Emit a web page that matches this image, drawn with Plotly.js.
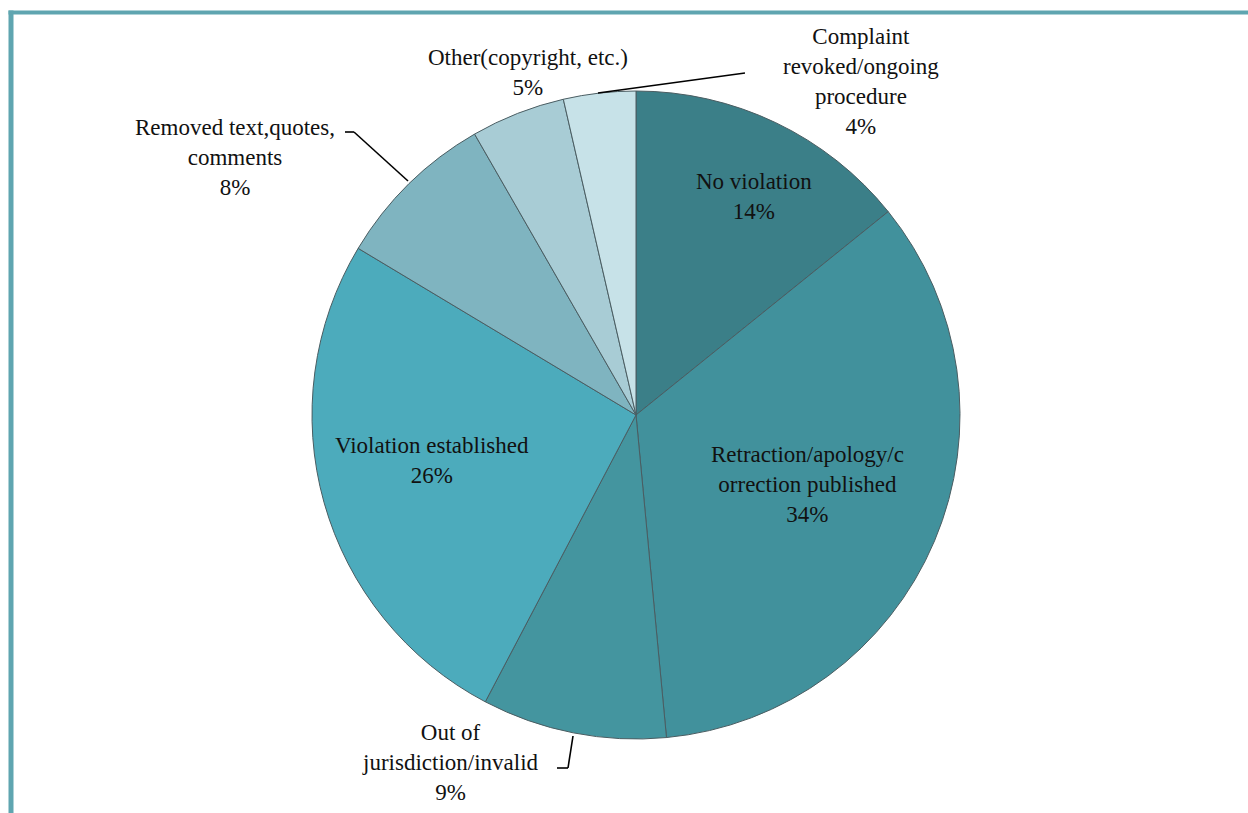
<!DOCTYPE html>
<html>
<head>
<meta charset="utf-8">
<script src="https://cdn.plot.ly/plotly-3.0.1.min.js"></script>
<style>
html,body{margin:0;padding:0;background:#fff;}
#chart{width:1248px;height:813px;}
</style>
</head>
<body>
<div id="chart"></div>
<script>
const categories = [
  "No violation",
  "Retraction/apology/c<br>orrection published",
  "Out of<br>jurisdiction/invalid",
  "Violation established",
  "Removed text,quotes,<br>comments",
  "Other(copyright, etc.)",
  "Complaint<br>revoked/ongoing<br>procedure"
];
const values = [14.2, 34.3, 9.2, 25.9, 8.1, 4.7, 3.6];
const colors = ["#3b7f88", "#41919c", "#44959f", "#4cabbc", "#7fb4c0", "#a8ccd5", "#c7e2e8"];

// label anchor positions in pixels (layout only)
const labelPos = [
  [754, 196], [807, 484], [450, 762], [432, 460], [235, 157], [528, 72], [861, 82]
];

const W = 1248, H = 813;
const fontFam = "Liberation Serif";

const annotations = categories.map((c, i) => ({
  xref: "paper", yref: "paper",
  x: labelPos[i][0] / W, y: 1 - labelPos[i][1] / H,
  xanchor: "center", yanchor: "middle",
  text: c + "<br>" + Math.round(values[i]) + "%",
  showarrow: false,
  align: "center",
  font: {family: fontFam, size: 23, color: "#111"}
}));

function line(x0, y0, x1, y1) {
  return {type: "line", xref: "paper", yref: "paper",
    x0: x0 / W, y0: 1 - y0 / H, x1: x1 / W, y1: 1 - y1 / H,
    line: {color: "#000", width: 1.6}};
}

const shapes = [
  // frame
  {type: "line", xref: "paper", yref: "paper", x0: 11 / W, y0: 0, x1: 11 / W, y1: 1 - 10.5 / H,
    line: {color: "#5fa5b0", width: 5}},
  {type: "line", xref: "paper", yref: "paper", x0: 8.5 / W, y0: 1 - 12.5 / H, x1: 1, y1: 1 - 12.5 / H,
    line: {color: "#5fa5b0", width: 4}},
  // leader lines
  line(598, 93, 745, 73),
  line(345, 132, 354, 132), line(354, 132, 408, 181),
  line(557, 768, 568, 768), line(568, 768, 573, 736)
];

const data = [{
  type: "pie",
  labels: categories,
  values: values,
  sort: false,
  direction: "clockwise",
  rotation: 0,
  textinfo: "none",
  hoverinfo: "label+percent",
  marker: {colors: colors, line: {color: "#4a5d62", width: 1}},
  domain: {x: [312 / W, 960 / W], y: [1 - 739 / H, 1 - 91 / H]},
  showlegend: false
}];

const layout = {
  width: W, height: H,
  margin: {l: 0, r: 0, t: 0, b: 0},
  paper_bgcolor: "#ffffff",
  showlegend: false,
  font: {family: fontFam},
  annotations: annotations,
  shapes: shapes
};

Plotly.newPlot("chart", data, layout, {displayModeBar: false, staticPlot: true});
</script>
</body>
</html>
